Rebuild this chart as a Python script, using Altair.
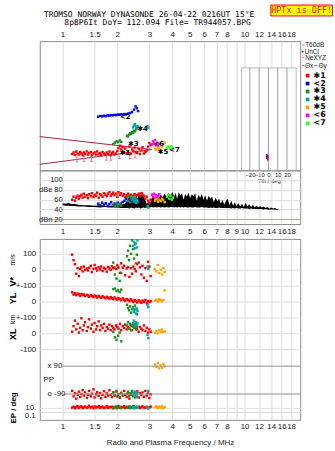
import altair as alt
import pandas as pd

# ---------------- texts ----------------
TITLE_1 = "TROMSO NORWAY   DYNASONDE 26-04-22 0216UT 15°E"
TITLE_2 = "8pBP6It DoY= 112.094 File= TR944057.BPG"
WARN = "HPTx is OFF!"
XTITLE = "Radio and Plasma Frequency / MHz"

FREQ_TICKS = [1, 1.5, 2, 3, 4, 5, 6, 7, 8, 9, 10, 12, 14, 16, 18]
HEIGHT_TICKS = [80, 90, 100, 120, 150, 200, 300, 400, 600, 800]
DB_LEVELS = [100, 80, 60, 40, 20]
DB_LABELS = ["100", "dBe 80", "60", "40", "dBn 20"]
TILT_TICKS = [-20, -10, 0, 10, 20]

CLASSES = ["✱1", "<2", "✱3", "✱4", "✱5", "<6", "<7"]
COLORS = ["#ff0000", "#0000ff", "#228b22", "#00a8a8", "#ffa500", "#ff00ff", "#33ff33"]

# ---------------- echo class 1 (red) ----------------
f_red = [1.13, 1.15, 1.17, 1.19, 1.21, 1.23, 1.25, 1.27, 1.29, 1.31,
         1.33, 1.36, 1.38, 1.40, 1.43, 1.45, 1.48, 1.50, 1.53, 1.55,
         1.58, 1.61, 1.63, 1.66, 1.69, 1.72, 1.75, 1.78, 1.81, 1.84,
         1.87, 1.90, 1.93, 1.97, 2.00, 2.03, 2.07, 2.10, 2.14, 2.18,
         2.21, 2.25, 2.29, 2.33, 2.37, 2.41, 2.45, 2.49, 2.53, 2.57,
         2.62, 2.66, 2.71, 2.75, 2.80, 2.85, 2.90, 2.95, 3.00, 3.05]
h_red = [107, 110, 105, 112, 108, 106, 111, 108, 105, 110,
         107, 112, 106, 109, 111, 105, 108, 110, 106, 112,
         107, 109, 105, 111, 108, 106, 110, 107, 112, 105,
         109, 111, 106, 108, 113, 119, 124, 116, 121, 110,
         118, 108, 112, 122, 107, 116, 113, 120, 111, 109,
         117, 107, 114, 121, 108, 111, 114, 122, 130, 125]
amp_red = [60, 66, 58, 64, 68, 62, 67, 70, 64, 72,
           66, 69, 63, 71, 67, 73, 65, 70, 68, 74,
           64, 71, 69, 66, 73, 70, 67, 72, 75, 68,
           71, 74, 69, 72, 66, 75, 70, 73, 68, 71,
           65, 69, 72, 67, 70, 64, 68, 71, 66, 69,
           72, 67, 73, 70, 68, 62, 66, 58, 54, 60]
vs_red = [95, 60, 35, -25, 10, -40, 5, 15, -10, 20,
          0, 8, -5, 12, 25, -15, 5, 30, 10, -5,
          15, 2, 20, -8, 12, 5, -12, 18, 8, 0,
          22, 10, 14, 5, 28, 15, -20, 40, 12, 25,
          -35, 8, 18, -45, 10, -25, 20, 5, -10, 35,
          45, 15, -30, 25, -50, 10, -70, 50, 20, -40]
yl_red = [58, 44, 52, 40, 50, 46, 36, 47, 41, 44,
          35, 42, 38, 30, 40, 34, 28, 38, 33, 25,
          36, 29, 24, 33, 27, 20, 30, 24, 18, 28,
          22, 15, 26, 18, 12, 22, 16, 8, 20, 12,
          4, 16, 10, 2, 14, 6, -4, 10, 3, -6,
          8, 0, -8, 6, -2, 10, -10, 4, -4, 2]
xl_red = [10, 45, 80, 25, 60, 5, 35, 95, 20, 50,
          70, 15, 40, 88, 30, 55, 10, 65, 25, 45,
          75, 20, 50, 35, 60, 15, 40, 30, 55, 20,
          45, 35, 25, 50, 40, 30, 60, 20, 45, 35,
          55, 25, 40, 30, 50, 20, 45, 35, 60, 25,
          10, 40, 30, 20, 50, 15, 35, 5, 25, 10]
pp_red = [-70, -105, -85, -120, -95, -75, -110, -90, -65, -100,
          -80, -115, -95, -70, -105, -88, -60, -112, -92, -78,
          -102, -84, -118, -96, -72, -108, -86, -100, -66, -94,
          -110, -80, -98, -74, -106, -90, -115, -82, -100, -70,
          -95, -110, -85, -120, -92, -76, -104, -88, -98, -72,
          -112, -84, -96, -80, -108, -70, -100, -86, -116, -92]
ep_red = [12, 20, 8, 15, 30, 10, 18, 25, 9, 14,
          22, 11, 16, 35, 13, 19, 8, 24, 12, 17,
          28, 10, 15, 21, 9, 13, 26, 11, 18, 14,
          20, 8, 16, 23, 12, 30, 10, 17, 14, 25,
          9, 19, 13, 22, 11, 15, 28, 10, 18, 12,
          20, 9, 16, 24, 13, 11, 19, 8, 15, 21]

# ---------------- echo class 2 (blue) ----------------
f_blue = [1.57, 1.61, 1.65, 1.69, 1.73, 1.77, 1.81, 1.85, 1.89, 1.93, 1.97, 2.01,
          2.05, 2.09, 2.14, 2.19, 2.24, 2.29, 2.35, 2.41, 2.47, 2.52, 2.56, 2.60]
h_blue = [208, 211, 209, 212, 210, 213, 212, 214, 213, 215, 214, 216,
          215, 217, 216, 218, 217, 220, 222, 226, 236, 250, 242, 230]
amp_blue = [52, 49, 54, 50, 53, 48, 51, 55, 49, 52, 50, 54,
            47, 52, 55, 58, 62, 57, 60, 56, 59, 55, 61, 57]

# ---------------- echo class 3 (green) ----------------
f_green = [1.90, 1.94, 1.98, 2.02, 2.06, 2.10, 2.26, 2.29, 2.32, 2.35, 2.38, 2.41, 2.44, 2.47, 2.50, 2.53, 2.56]
h_green = [128, 131, 134, 132, 136, 133, 148, 146, 151, 155, 153, 158, 156, 162, 160, 166, 170]
amp_green = [50, 47, 52, 46, 51, 48, 66, 58, 68, 55, 63, 60, 65, 57, 62, 54, 59]
vs_green = [45, -30, -55, 10, -70, -20, 85, 120, 60, 150, 100, 185, 130, 70, 160, 40, 95]
yl_green = [78, 82, 66, 72, 60, 75, -20, -40, -55, -30, -70, -48, -35, -62, -25, -45, -80]
xl_green = [10, -25, -40, -15, 5, -50, 50, 70, 30, 60, 20, 45, 65, 35, 55, 25, 40]
pp_green = [-80, -100, -70, -95, -110, -85, -90, -75, -105, -85, -95, -70, -100, -88, -112, -78, -92]
ep_green = [10, 15, 8, 12, 18, 9, 14, 11, 20, 9, 16, 12, 10, 22, 13, 15, 11]

# ---------------- echo class 4 (teal) ----------------
f_teal = [2.44, 2.47, 2.50, 2.53, 2.56, 2.58, 2.93, 2.96]
h_teal = [172, 178, 182, 175, 170, 176, 176, 171]
amp_teal = [62, 57, 65, 54, 60, 56, 47, 44]
vs_teal = [150, 175, 135, 165, 140, 185, 20, 5]
yl_teal = [-40, -65, -50, -75, -45, -60, -20, -35]
xl_teal = [60, 80, 45, 70, 50, 65, -10, -30]
pp_teal = [-85, -100, -75, -95, -110, -80, -90, -70]
ep_teal = [12, 9, 15, 10, 18, 11, 14, 10]

# ---------------- echo class 5 (orange) ----------------
f_orange = [3.22, 3.28, 3.34, 3.40, 3.46, 3.52, 3.58, 3.64]
h_orange = [118, 115, 120, 117, 113, 122, 128, 131]
amp_orange = [58, 61, 56, 60, 57, 62, 59, 55]
vs_orange = [5, -10, 30, -20, 0, -30, 10, -15]
yl_orange = [5, 12, 0, 15, 8, 3, 10, 70]
xl_orange = [5, 15, 0, 20, 10, 25, 8, 12]
pp_orange = [100, 85, 110, 75, 95, 80, 105, 90]
ep_orange = [15, 25, 10, 20, 12, 30, 9, 18]

# ---------------- echo classes 6 (magenta), 7 (lime) ----------------
f_mag = [3.10, 3.14, 3.18, 3.22, 3.26, 3.30, 3.35, 3.40]
h_mag = [127, 134, 129, 137, 125, 131, 123, 128]
amp_mag = [70, 66, 72, 64, 69, 63, 67, 71]
f_lime = [3.75, 3.80, 3.86, 3.92, 3.98, 4.05]
h_lime = [120, 122, 119, 123, 121, 118]
amp_lime = [66, 70, 62, 68, 60, 64]

# ---------------- echo markers ----------------
lab_txt = ["✱1", "<2", "✱3", "✱4", "<6", "✱5", "<7"]
lab_f = [2.06, 2.07, 2.29, 2.57, 3.16, 3.33, 3.85]
lab_h = [108, 207, 128, 167, 128, 110, 114]

# ---------------- NeXYZ, model lines ----------------
ne_f = [1.20, 1.31, 1.44, 1.74, 1.84, 2.05, 2.34, 2.50]
ne_h = [97, 98, 98, 100, 100, 103, 103, 104]
line_f = [0.75, 3.1]
upper_h = [146, 116]
lower_h = [89, 116]

# ---------------- tilt inset ----------------
tilt_x = [-1.8, -0.5]
tilt_h0 = [98, 95]
tilt_h1 = [107, 105]

# ---------------- noise (black) ----------------
f_noise = [1.00, 1.04, 1.08, 1.12, 1.16,
           1.22, 1.30, 1.40, 1.50, 1.60, 1.70, 1.80, 1.90, 2.00, 2.10, 2.20,
           2.28, 2.33, 2.38, 2.43, 2.48, 2.53, 2.58, 2.63, 2.68, 2.73, 2.78, 2.84, 2.90, 2.96,
           3.02, 3.08, 3.15, 3.22, 3.30, 3.38, 3.46, 3.55, 3.64, 3.73, 3.82, 3.92,
           4.02, 4.10, 4.18, 4.26, 4.35, 4.44, 4.53, 4.62, 4.72, 4.82, 4.92, 5.02, 5.13, 5.24, 5.35, 5.46, 5.58, 5.70, 5.82, 5.95,
           6.08, 6.21, 6.35, 6.49, 6.63, 6.78, 6.93, 7.08, 7.24, 7.40, 7.56, 7.73, 7.90,
           8.08, 8.26, 8.45, 8.64, 8.84, 9.04, 9.25, 9.46, 9.68, 9.90,
           10.13, 10.36, 10.60, 10.85, 11.10, 11.36, 11.62, 11.89, 12.17,
           12.45, 12.74, 13.04, 13.35, 13.66, 13.98, 14.31, 14.65, 15.00, 15.36]
hi_noise = [53, 52, 54, 51, 52,
            50, 49, 49, 48, 49, 48, 47, 48, 48, 50, 52,
            60, 68, 55, 66, 58, 72, 62, 75, 64, 77, 70, 60, 52, 56,
            50, 62, 66, 58, 68, 63, 70, 65, 72, 66, 74, 68,
            76, 66, 74, 62, 75, 68, 73, 60, 72, 66, 74, 63, 71, 67, 73, 58, 70, 64, 72, 60,
            69, 58, 68, 62, 66, 55, 64, 57, 62, 52, 60, 50, 58,
            62, 49, 58, 48, 55, 47, 53, 46, 52, 45,
            54, 46, 51, 45, 50, 44, 48, 44, 47,
            44, 46, 43, 45, 42, 44, 42, 43, 41, 41]
lo_noise = [49, 48, 48, 47, 47,
            46, 46, 45, 45, 44, 45, 44, 44, 44, 43, 43,
            43, 42, 44, 43, 42, 44, 43, 44, 42, 43, 44, 43, 44, 44,
            44, 45, 44, 45, 44, 45, 44, 45, 44, 45, 44, 45,
            45, 44, 45, 44, 45, 44, 45, 44, 45, 44, 44, 45, 44, 44, 45, 44, 44, 44, 45, 44,
            44, 44, 43, 44, 43, 44, 43, 43, 44, 43, 43, 43, 43,
            43, 43, 42, 43, 42, 43, 42, 42, 43, 42,
            42, 42, 41, 42, 41, 41, 41, 41, 41,
            41, 40, 41, 40, 40, 40, 40, 40, 39, 40]

PP_LINES = [90, -90]

# ---------------- tables ----------------
def col_of(cls):
    return COLORS[CLASSES.index(cls)]


def table(cls, f, **cols):
    d = pd.DataFrame({"f": f, **cols})
    d["cls"] = cls
    d["col"] = col_of(cls)
    return d


def bands(cls, f, **b):
    parts = []
    for band, vals in b.items():
        d = pd.DataFrame({"f": f, "val": vals})
        d["band"] = band
        d["cls"] = cls
        d["col"] = col_of(cls)
        parts.append(d)
    return pd.concat(parts, ignore_index=True)


height_df = pd.concat([
    table("✱1", f_red, h=h_red), table("<2", f_blue, h=h_blue),
    table("✱3", f_green, h=h_green), table("✱4", f_teal, h=h_teal),
    table("<6", f_mag, h=h_mag), table("✱5", f_orange, h=h_orange),
    table("<7", f_lime, h=h_lime)], ignore_index=True)
amp_df = pd.concat([
    table("✱1", f_red, amp=amp_red), table("<2", f_blue, amp=amp_blue),
    table("✱3", f_green, amp=amp_green), table("✱4", f_teal, amp=amp_teal),
    table("<6", f_mag, amp=amp_mag), table("✱5", f_orange, amp=amp_orange),
    table("<7", f_lime, amp=amp_lime)], ignore_index=True)
lower_df = pd.concat([
    bands("✱1", f_red, V=vs_red, YL=yl_red, XL=xl_red, PP=pp_red, EP=ep_red),
    bands("✱3", f_green, V=vs_green, YL=yl_green, XL=xl_green, PP=pp_green, EP=ep_green),
    bands("✱4", f_teal, V=vs_teal, YL=yl_teal, XL=xl_teal, PP=pp_teal, EP=ep_teal),
    bands("✱5", f_orange, V=vs_orange, YL=yl_orange, XL=xl_orange, PP=pp_orange, EP=ep_orange)],
    ignore_index=True)
noise_df = pd.DataFrame({"f": f_noise, "lo": lo_noise, "hi": hi_noise})
lines_df = pd.DataFrame({"f": line_f + line_f, "h": upper_h + lower_h,
                         "which": ["upper"] * len(line_f) + ["lower"] * len(line_f)})
ne_df = pd.DataFrame({"f": ne_f, "h": ne_h})
lab_df = pd.DataFrame({"f": lab_f, "h": lab_h, "txt": lab_txt})
tilt_grid_df = pd.DataFrame({"tilt": TILT_TICKS})
tilt_df = pd.DataFrame({"tilt": tilt_x, "h0": tilt_h0, "h1": tilt_h1})
dblab_df = pd.DataFrame({"level": DB_LEVELS, "txt": DB_LABELS})
ppl_df = pd.DataFrame({"val": PP_LINES, "band": ["PP"] * len(PP_LINES), "f": [1.0] * len(PP_LINES)})
ONE = pd.DataFrame({"k": [0]})

VY = ("datum.band == 'V' ? 31 - 0.16 * datum.val : "
      "datum.band == 'YL' ? 63 - 0.16 * datum.val : "
      "datum.band == 'XL' ? 95 - 0.16 * datum.val : "
      "datum.band == 'PP' ? 142 - datum.val * 28 / 180 : "
      "174 - 4 * log(datum.val) / LN10")

# ---------------- scales / axes ----------------
W = 262
FONT = "Liberation Sans"
GRID = "#dcdcdc"
XS = alt.Scale(type="log", domain=[0.75, 20.2], nice=False)
HS = alt.Scale(type="log", domain=[80, 800], nice=False)
NO9 = "datum.value == 9 ? '' : format(datum.value, '~g')"

X_A = alt.X("f:Q", scale=XS, axis=alt.Axis(orient="top", values=FREQ_TICKS, labelExpr=NO9, grid=True,
            ticks=False, domain=False, labelPadding=3, title=None, labelOverlap=False, labelFlush=False))
Y_A = alt.Y("h:Q", scale=HS,
            axis=alt.Axis(values=HEIGHT_TICKS, grid=True, ticks=False, domain=False, labelPadding=4,
                          labelOverlap=False, title="R', R / km", titleX=-26, titleY=44, titleAngle=270,
                          titleAlign="center", titleBaseline="middle", titleFontSize=8, titleFontWeight="bold"))
X_T = alt.X("tilt:Q", scale=alt.Scale(domain=[-29, 30], range=[203, 258], nice=False, zero=False),
            axis=alt.Axis(orient="bottom", values=TILT_TICKS, title="Tilt / deg", titleFontSize=6,
                          titleFontWeight="normal", labelFontSize=6, labelPadding=1, titlePadding=0,
                          grid=False, ticks=False, domain=False, labelOverlap=False, labelFlush=False))


def T(txt, x, y, size=6.5, color="#222", weight="normal", align="left", font=FONT, angle=0):
    return alt.Chart(ONE).mark_text(text=txt, fontSize=size, color=color, fontWeight=weight, align=align,
                                    font=font, angle=angle, baseline="middle").encode(
        x=alt.value(x), y=alt.value(y))


def R(x1, x2, y, color, width=1):
    return alt.Chart(ONE).mark_rule(color=color, strokeWidth=width).encode(
        x=alt.value(x1), x2=alt.value(x2), y=alt.value(y))


# ---------------- panel A: heights ----------------
a_lines = alt.Chart(lines_df).mark_line(color="#b02040", strokeWidth=1).encode(x=X_A, y=Y_A, detail="which:N")
a_ne = alt.Chart(ne_df).mark_point(shape="M-0.6,-1L0.6,-1M0,-1L0,1M-0.6,1L0.6,1", size=22, filled=False,
                                   color="#f07898", strokeWidth=1, opacity=1).encode(x=X_A, y=Y_A)
a_pts = alt.Chart(height_df).mark_square(size=6, opacity=1).encode(
    x=X_A, y=Y_A,
    color=alt.Color("cls:N", scale=alt.Scale(domain=CLASSES, range=COLORS),
                    legend=alt.Legend(orient="none", legendX=265.4, legendY=30.7, title=None,
                                      symbolType="square", symbolSize=14, symbolStrokeWidth=0,
                                      labelFontSize=8, labelFont="DejaVu Sans", labelFontWeight="bold",
                                      labelColor="black", rowPadding=0, padding=0, labelOffset=2)))
a_lab = alt.Chart(lab_df).mark_text(align="left", baseline="middle", fontSize=7, fontWeight="bold",
                                    font="DejaVu Sans", color="black").encode(x=X_A, y=Y_A, text="txt:N")
a_dot = alt.Chart(ONE).mark_point(filled=True, size=3, color="black", opacity=1).encode(
    x=alt.value(264.3), y=alt.value(10.5))
deco = [
    T(TITLE_1, 110, -26.5, size=8, color="black", align="center", font="DejaVu Sans Mono"),
    T(TITLE_2, 118.5, -18.5, size=8, color="black", align="center", font="DejaVu Sans Mono"),
    alt.Chart(ONE).mark_rect(fill="#ffff00", stroke="#ff0000", strokeWidth=1).encode(
        x=alt.value(232.5), x2=alt.value(294.5), y=alt.value(-36.3), y2=alt.value(-25.3)),
    T(WARN, 263.5, -30.8, size=8.5, color="#ff0000", align="center", font="DejaVu Sans Mono"),
    R(263.7, 266.5, 4, "#a8a8a8"), T("T60dB", 267, 4),
    a_dot, T("UnCl", 266.3, 10.5),
    T("+", 265, 17.5, size=6.5, color="#f07898", align="center"), T("NeXYZ", 267, 17.5),
    R(263.7, 266.3, 24.7, "#ff6060"), T("Θx", 266.7, 24.7),
    R(276, 279.3, 24.7, "#6060ff"), T("Θy", 280.3, 24.7),
]
main_A = alt.layer(a_lines, a_ne, a_pts, a_lab, *deco)

i_box = alt.Chart(ONE).mark_rect(fill="white", stroke="#b8b8d0", strokeWidth=1).encode(
    x=alt.value(203), x2=alt.value(258), y=alt.value(27), y2=alt.value(130))
i_grid = alt.Chart(tilt_grid_df).mark_rule(color="#9a9ab8", strokeWidth=1).encode(
    x=X_T, y=alt.value(27), y2=alt.value(130))
i_blue = alt.Chart(tilt_df.iloc[[0]]).mark_rule(color="#0000ff", strokeWidth=1.6).encode(
    x=X_T, y=alt.Y("h0:Q", scale=HS, axis=None), y2="h1:Q")
i_red = alt.Chart(tilt_df.iloc[[1]]).mark_rule(color="#ff0000", strokeWidth=1.6).encode(
    x=X_T, y=alt.Y("h0:Q", scale=HS, axis=None), y2="h1:Q")
inset = alt.layer(i_box, i_grid, i_blue, i_red)

A = alt.layer(main_A, inset).resolve_scale(x="independent").properties(width=W, height=130)

# ---------------- panel B: amplitudes ----------------
X_B = alt.X("f:Q", scale=XS, axis=alt.Axis(orient="bottom", values=FREQ_TICKS,
            labelExpr="format(datum.value, '~g')", grid=True, ticks=False, domain=False,
            labelPadding=4, title=None, labelOverlap=False, labelFlush=False))
DS = alt.Scale(domain=[11, 119], nice=False, zero=False)
AX_B = alt.Axis(values=[40, 60, 80, 100], labels=False, ticks=False, domain=False, grid=True, title=None)
b_noise = alt.Chart(noise_df).mark_area(color="black", opacity=1).encode(
    x=X_B, y=alt.Y("lo:Q", scale=DS, axis=AX_B), y2="hi:Q")
b_pts = alt.Chart(amp_df).mark_square(size=6, opacity=1).encode(
    x=X_B, y=alt.Y("amp:Q", scale=DS, axis=AX_B), color=alt.Color("col:N", scale=None))
b_n20 = alt.Chart(dblab_df[dblab_df.level == 20]).mark_rule(color="#a8a8d0", strokeWidth=1).encode(
    y=alt.Y("level:Q", scale=DS, axis=AX_B))
b_lab = alt.Chart(dblab_df).mark_text(align="right", baseline="middle", fontSize=7.5, font=FONT,
                                      color="#222").encode(
    x=alt.value(23), y=alt.Y("level:Q", scale=DS, axis=AX_B), text="txt:N")
B = alt.layer(b_noise, b_n20, b_pts, b_lab).properties(width=W, height=54)

# ---------------- spacer ----------------
S = alt.Chart(ONE).mark_point(opacity=0).encode(x=alt.value(0), y=alt.value(0)).properties(
    width=W, height=15, view=alt.ViewBackground(strokeOpacity=0))

# ---------------- panel C: V*, YL, XL, PP, EP ----------------
AX_C = alt.Axis(orient="bottom", values=FREQ_TICKS, labelExpr=NO9, grid=True,
                ticks=False, domain=False, labelPadding=3, title=XTITLE, titleFontSize=8,
                titleFontWeight="normal", titlePadding=8, labelOverlap=False, labelFlush=False)
X_C = alt.X("f:Q", scale=XS, axis=AX_C)
C_LAB = ("datum.value == 15 ? '100' : datum.value == 31 ? '0' : datum.value == 47 ? '+-100' : "
         "datum.value == 63 ? '0' : datum.value == 79 ? '+-100' : datum.value == 95 ? '0' : "
         "datum.value == 111 ? '-100' : datum.value == 170 ? '10.' : ''")
Y_C = alt.Y("vy:Q", scale=alt.Scale(domain=[0, 182], nice=False, zero=False, reverse=True),
            axis=alt.Axis(values=[15, 31, 47, 63, 79, 95, 111, 170, 174], labelExpr=C_LAB, grid=True,
                          ticks=False, domain=False, labelPadding=4, title=None, labelOverlap=False))
c_pp = alt.Chart(ppl_df).transform_calculate(vy=VY).mark_rule(color="#909090", strokeWidth=1).encode(
    x=X_C, x2=alt.value(W), y=Y_C)
c_pts = alt.Chart(lower_df).transform_calculate(vy=VY).mark_square(size=6, opacity=1).encode(
    x=X_C, y=Y_C, color=alt.Color("col:N", scale=None))
c_deco = [
    T("x 90", 7.7, 128, size=8), T("PP", 3.7, 142.3, size=8), T("o -90", 7.7, 156, size=8),
    T("0.1", -4, 178, size=8, align="right"),
    T("V*", -27, 43, size=9, weight="bold", color="black", align="center", angle=270),
    T("m/s", -27, 21, size=7, color="black", align="center", angle=270),
    T("YL", -27, 60, size=9, weight="bold", color="black", align="center", angle=270),
    T("km", -27, 81, size=7, color="black", align="center", angle=270),
    T("XL", -27, 96, size=9, weight="bold", color="black", align="center", angle=270),
    T("EP / deg", -26, 170, size=8, weight="bold", color="black", align="center", angle=270),
]
C = alt.layer(c_pts, c_pp, *c_deco).properties(width=W, height=182)

chart = alt.vconcat(A, B, S, C, spacing=0, bounds="flush").resolve_scale(
    color="independent").resolve_legend(color="independent")
chart = chart.properties(
    padding={"left": 8, "top": 2, "right": 1, "bottom": 5},
    background="white",
).configure_view(stroke="#8c8c8c", strokeWidth=1).configure_axis(
    labelFont=FONT, labelFontSize=8, labelColor="#222", titleFont=FONT, titleColor="#222",
    gridColor=GRID, gridWidth=1)

chart.save("out.html", embed_options={"renderer": "svg", "actions": False})
